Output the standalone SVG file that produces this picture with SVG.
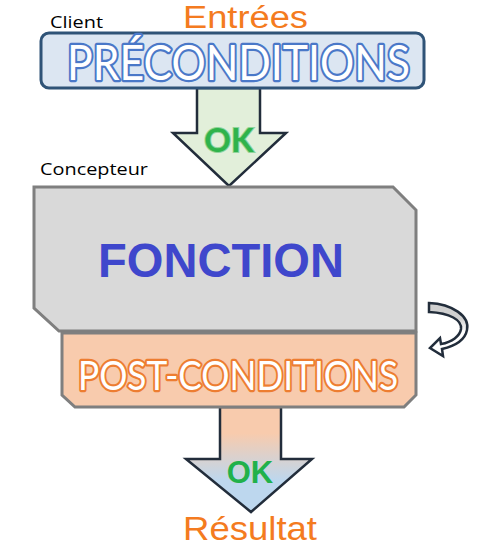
<svg xmlns="http://www.w3.org/2000/svg" width="500" height="553" viewBox="0 0 500 553">
<defs>
<linearGradient id="g2" x1="0" y1="407" x2="0" y2="512" gradientUnits="userSpaceOnUse">
<stop offset="0.25" stop-color="#f8cbad"/>
<stop offset="0.7" stop-color="#bdd7ee"/>
</linearGradient>
<linearGradient id="gc" x1="0" y1="303" x2="0" y2="355" gradientUnits="userSpaceOnUse">
<stop offset="0.3" stop-color="#d0d0d0"/>
<stop offset="0.55" stop-color="#ffffff"/>
</linearGradient>
<style>
.lbl{font-family:"Open Sans","Liberation Sans",sans-serif;fill:#000}
.big{font-family:"Liberation Sans",Arial,sans-serif;fill:#f47b20}
.outline{font-family:Lato,"Open Sans",sans-serif;fill:#fff;stroke-width:4.5;paint-order:stroke;stroke-linejoin:round}
.arrow{stroke:#222d3b;stroke-width:2.5;stroke-linejoin:miter}
</style>
</defs>
<g id="labels">
<text class="lbl" x="50" y="28" font-size="17" textLength="53" lengthAdjust="spacingAndGlyphs">Client</text>
<text class="lbl" x="40" y="175" font-size="17" textLength="108" lengthAdjust="spacingAndGlyphs">Concepteur</text>
<text class="big" x="183" y="28" font-size="31" textLength="125" lengthAdjust="spacingAndGlyphs">Entrées</text>
<text class="big" x="183" y="540" font-size="33" textLength="134" lengthAdjust="spacingAndGlyphs">Résultat</text>
</g>
<g id="connectors">
<g id="arrow-ok1">
<path class="arrow" fill="#e2efda" d="M197,88 L260,88 L260,133 L286,133 L229,186 L173,133 L197,133 Z"/>
<text x="229" y="152" text-anchor="middle" font-family="Lato,'Open Sans',sans-serif" font-weight="bold" font-size="33" fill="#2fb34b" stroke="#8fd49a" stroke-width="2" paint-order="stroke">OK</text>
</g>
<g id="arrow-ok2">
<path class="arrow" fill="url(#g2)" d="M220,407 L281,407 L281,459 L312,459 L251,512 L186,459 L220,459 Z"/>
<text x="250" y="483" text-anchor="middle" font-family="'Liberation Sans',Arial,sans-serif" font-weight="bold" font-size="31" fill="#21b14b">OK</text>
</g>
<g id="loop">
<path class="arrow" stroke-width="2.2" fill="url(#gc)" d="M429,303 C452,304 470,316 467,330 C465,340 455,346 442,349 L443,356 L430,348 L440,338 L441,344 C452,342 460,336 461,329 C462,320 450,313 429,312 Z"/>
</g>
</g>
<g id="preconditions">
<rect x="41" y="33" width="383" height="55" rx="8" fill="#dce6f2" stroke="#2f5377" stroke-width="3"/>
<text class="outline" x="67" y="80" font-size="48" stroke="#4a78c8" textLength="343" lengthAdjust="spacingAndGlyphs">PRÉCONDITIONS</text>
</g>
<g id="fonction">
<path d="M34,187 L393,187 L416,210 L416,331 L59,331 L34,308 Z" fill="#d9d9d9" stroke="#7f7f7f" stroke-width="3"/>
<text x="98" y="277" font-family="'Liberation Sans',Arial,sans-serif" font-weight="bold" font-size="48" fill="#3f47cc" textLength="246" lengthAdjust="spacingAndGlyphs">FONCTION</text>
</g>
<g id="postconditions">
<path d="M62,333 L416,333 L416,395 L404,407 L75,407 L62,395 Z" fill="#f8cbad" stroke="#7f7f7f" stroke-width="3"/>
<text class="outline" x="78" y="390" font-size="41" stroke="#ed7d31" textLength="320" lengthAdjust="spacingAndGlyphs">POST-CONDITIONS</text>
</g>
</svg>
